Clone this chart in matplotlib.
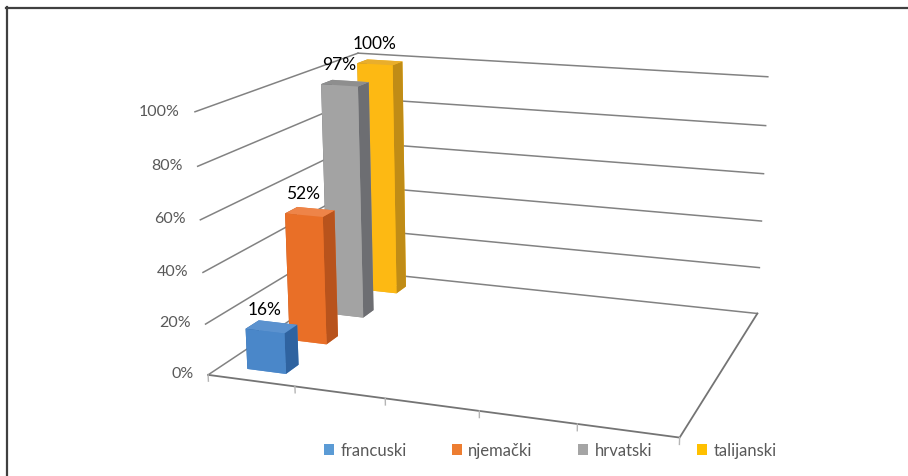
import numpy as np
import matplotlib.pyplot as plt
from matplotlib.patches import Patch
from matplotlib.lines import Line2D

plt.rcParams['font.family'] = ['Lato', 'DejaVu Sans']

languages = ['francuski', 'njemački', 'hrvatski', 'talijanski']
shares = [0.16, 0.52, 0.97, 1.00]
pct_ticks = [0.0, 0.2, 0.4, 0.6, 0.8, 1.0]
pct_labels = ['0%', '20%', '40%', '60%', '80%', '100%']

legend_colors = ['#5b9bd5', '#ed7d31', '#a5a5a5', '#ffc000']
# shaded faces of each column: front, side, top
front_colors = ['#4a87c9', '#e96f27', '#a3a3a3', '#fdb913']
side_colors = ['#2f63a0', '#b8531c', '#6d6e72', '#c08c16']
top_colors = ['#5b92cf', '#ee8448', '#8e8e8e', '#e9ae2c']

n_cols = 5               # slots along the front edge of the floor
n_rows = len(languages)  # rows going back

fig = plt.figure(figsize=(9.08, 4.77), dpi=100)
ax = fig.add_axes([0.2787, 0.0222, 0.5253, 1.0], projection='3d', computed_zorder=False)
ax.set_proj_type('persp', focal_length=0.62)
ax.view_init(elev=15, azim=-70.5)
ax.set_box_aspect((1.80, 1.41, 1.0), zoom=1.31)
ax.set_xlim(0, n_cols)
ax.set_ylim(0, n_rows)
ax.set_zlim(0, 1)
ax.set_axis_off()
ax.patch.set_alpha(0)

# wall gridlines
grid_kw = dict(color='#828282', lw=1.1, zorder=1, clip_on=False)
for z in pct_ticks:
    ax.plot([0, 0], [0, n_rows], [z, z], **grid_kw)
    ax.plot([0, n_cols], [n_rows, n_rows], [z, z], **grid_kw)

# floor edges and ticks
ax.plot([0, n_cols, n_cols], [0, 0, n_rows], [0, 0, 0], color='#747474', lw=1.3,
        zorder=1, clip_on=False)
for i in range(n_cols + 1):
    ax.plot([i, i], [0, 0], [0, -0.025], color='#b5b5b5', lw=1.0, zorder=1, clip_on=False)

for z, lab in zip(pct_ticks, pct_labels):
    ax.text(-0.17, 0, z, lab, ha='right', va='center', fontsize=11.5, color='#595959')

# columns
bar_w, bar_d = 0.45, 0.3
xs = np.full(n_rows, 0.3)
ys = np.arange(n_rows) + 0.3
face_colors = []
for f, s, t in zip(front_colors, side_colors, top_colors):
    face_colors += [t, t, f, f, s, s]   # -z, +z, -y, +y, -x, +x
ax.bar3d(xs, ys, np.zeros(n_rows), bar_w, bar_d, shares,
         color=face_colors, shade=False, linewidth=0, zorder=2, clip_on=False)

for x, y, h in zip(xs, ys, shares):
    ax.text(x + bar_w / 2, y, h + 0.055, f'{h:.0%}', ha='center', va='bottom',
            fontsize=12.5, color='black', zorder=3)

handles = [Patch(facecolor=c, edgecolor='none') for c in legend_colors]
fig.legend(handles, languages, loc='center', bbox_to_anchor=(0.606, 0.054), ncol=4,
           frameon=False, fontsize=12, labelcolor='#595959', handlelength=0.6,
           handleheight=0.6, handletextpad=0.4, columnspacing=2.7)

# frame around the chart
fig.add_artist(Line2D([6 / 908, 1], [1 - 8.5 / 477] * 2, transform=fig.transFigure,
                      color='#404040', lw=1.6))
fig.add_artist(Line2D([7 / 908] * 2, [0, 1 - 8 / 477], transform=fig.transFigure,
                      color='#404040', lw=1.6))

fig.savefig('out.png', dpi=100)
